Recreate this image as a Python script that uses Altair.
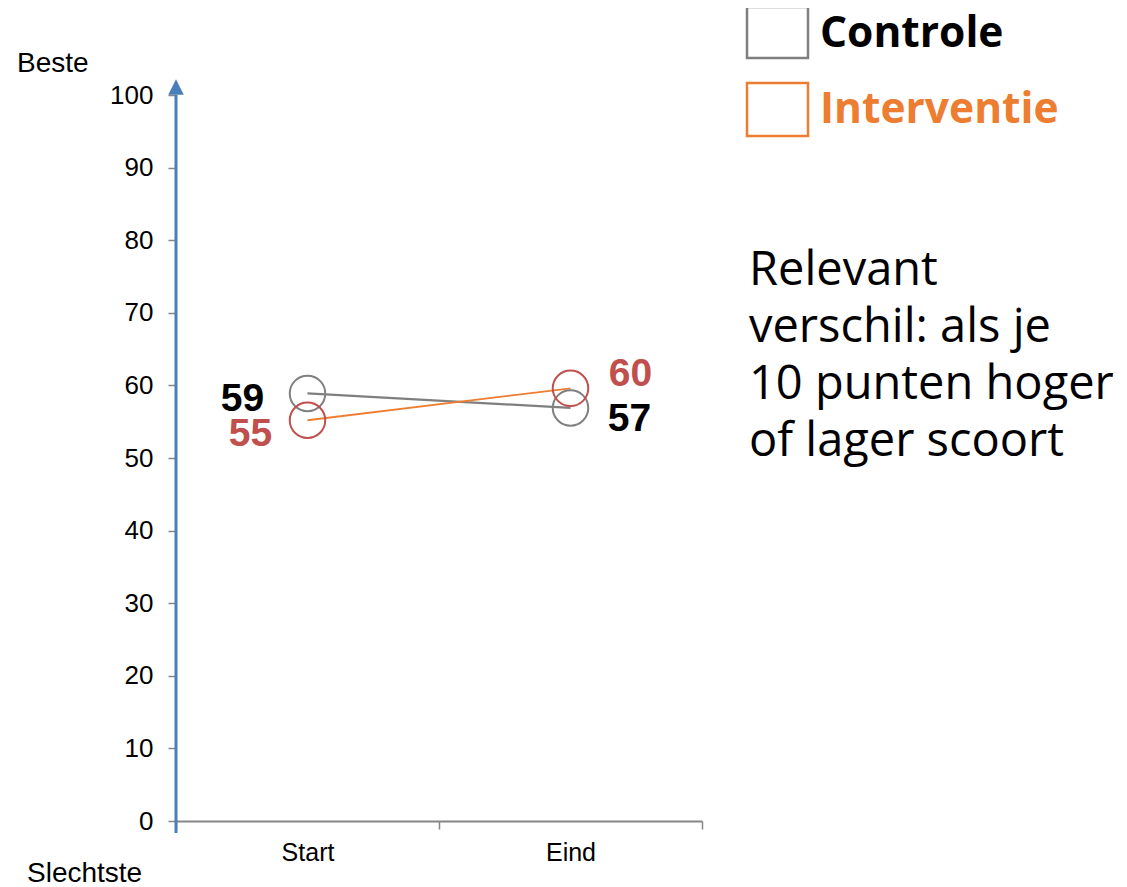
import altair as alt
import pandas as pd

# ---- data ----
periods = ["Start", "Eind"]
groups = ["Controle", "Interventie"]
controle = [58.9, 56.9]
interventie = [55.2, 59.6]
y_ticks = [0, 10, 20, 30, 40, 50, 60, 70, 80, 90, 100]
note_lines = ["Relevant", "verschil: als je", "10 punten hoger", "of lager scoort"]

rows = []
for g, vals in zip(groups, [controle, interventie]):
    for p, v in zip(periods, vals):
        rows.append({"group": g, "period": p, "value": v})
df = pd.DataFrame(rows)
one = pd.DataFrame({"k": [0]})

W, H = 526, 726
GRAY_AX = "#868686"
BLUE = "#4a7ebb"
LINE_COL = {"Controle": "#7f7f7f", "Interventie": "#ed7d31"}
CIRC_COL = {"Controle": "#808080", "Interventie": "#c0504d"}
LABEL_COL = {"Controle": "#000000", "Interventie": "#c0504d"}

x_enc = alt.X(
    "period:N",
    sort=periods,
    scale=alt.Scale(type="band", domain=periods, paddingInner=0, paddingOuter=0),
    axis=alt.Axis(
        title=None, grid=False, tickBand="extent", domainColor=GRAY_AX,
        domainWidth=2, tickColor=GRAY_AX, tickWidth=1.5, tickSize=8,
        labelFont="Liberation Sans", labelFontSize=25, labelColor="#000000",
        labelPadding=11, labelAngle=0,
    ),
)
y_enc = alt.Y(
    "value:Q",
    scale=alt.Scale(domain=[0, 100], nice=False, zero=True),
    axis=alt.Axis(
        title=None, grid=False, domain=False, values=y_ticks,
        tickColor=GRAY_AX, tickWidth=1.5, tickSize=8,
        labelFont="Liberation Sans", labelFontSize=26, labelColor="#000000",
        labelPadding=15,
    ),
)

base = alt.Chart(df)
layers = []

for g in groups:
    layers.append(
        base.transform_filter(alt.datum.group == g)
        .mark_line(color=LINE_COL[g], strokeWidth=2.2 if g == "Controle" else 1.8)
        .encode(x=x_enc, y=y_enc)
    )
for g in groups:
    layers.append(
        base.transform_filter(alt.datum.group == g)
        .mark_point(shape="circle", filled=False, size=1260, strokeWidth=2,
                    color=CIRC_COL[g], opacity=1)
        .encode(x=x_enc, y=y_enc)
    )

offsets = {
    ("Controle", "Start"): (-65, 6),
    ("Interventie", "Start"): (-57, 14),
    ("Controle", "Eind"): (59, 11),
    ("Interventie", "Eind"): (60, -14),
}
for (g, p), (dx, dy) in offsets.items():
    layers.append(
        base.transform_filter((alt.datum.group == g) & (alt.datum.period == p))
        .mark_text(font="Liberation Sans", fontSize=39, fontWeight="bold",
                   color=LABEL_COL[g], align="center", baseline="middle",
                   dx=dx, dy=dy)
        .encode(x=x_enc, y=y_enc, text=alt.Text("value:Q", format=".0f"))
    )

ann = alt.Chart(one)
# blue y axis line with arrow
layers.append(ann.mark_rule(color=BLUE, strokeWidth=3).encode(
    x=alt.value(0), y=alt.value(738), y2=alt.value(0)))
layers.append(ann.mark_point(shape="M-1,1L0,-1L1,1Z", filled=True, size=240,
                             color=BLUE, opacity=1).encode(
    x=alt.value(0), y=alt.value(-8)))

# axis end titles
layers.append(ann.mark_text(font="Liberation Sans", fontSize=28, align="left",
                            baseline="alphabetic", color="#000000").encode(
    x=alt.value(-159), y=alt.value(-23), text=alt.value("Beste")))
layers.append(ann.mark_text(font="Liberation Sans", fontSize=28, align="left",
                            baseline="alphabetic", color="#000000").encode(
    x=alt.value(-149), y=alt.value(787), text=alt.value("Slechtste")))

# note text
layers.append(ann.mark_text(font="Open Sans", fontSize=47, align="left",
                            baseline="alphabetic", color="#000000",
                            lineHeight=57).encode(
    x=alt.value(573), y=alt.value(190), text=alt.value(note_lines)))

# manual legend
leg = [("Controle", "#7f7f7f", "#000000", -88, -37, -48),
       ("Interventie", "#ed7d31", "#ed7d31", -12, 41, 28)]
for name, sc, tc, y0, y1, yb in leg:
    layers.append(ann.mark_rect(fill="white", fillOpacity=0, stroke=sc,
                                strokeWidth=2.5).encode(
        x=alt.value(571), x2=alt.value(632), y=alt.value(y0), y2=alt.value(y1)))
    layers.append(ann.mark_text(font="Open Sans", fontSize=42.5, fontWeight="bold",
                                align="left", baseline="alphabetic", color=tc).encode(
        x=alt.value(644), y=alt.value(yb), text=alt.value(name)))

chart = alt.layer(*layers).properties(
    width=W, height=H,
    autosize=alt.AutoSizeParams(type="none"),
    padding={"left": 168, "top": 87, "right": 415, "bottom": 68},
    background="white",
).configure_view(stroke=None)

chart.save("out.html", embed_options={"renderer": "svg", "actions": False})
